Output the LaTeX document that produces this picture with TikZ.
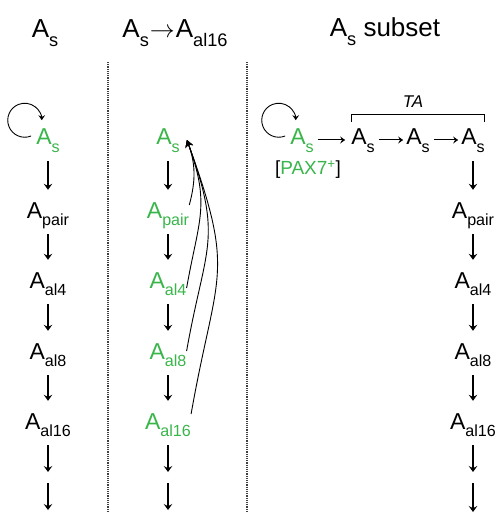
\documentclass[tikz,border=0pt]{standalone}
\usepackage{fontspec}
\setmainfont{Liberation Sans}
\usepackage{tikz}
\usetikzlibrary{calc}
\usetikzlibrary{arrows.meta}
\definecolor{paxgreen}{RGB}{57,181,74}
\newcommand{\sub}[1]{\raisebox{-0.32em}{\scalebox{0.7}{#1}}}
\tikzstyle{titlebox}=[anchor=base,inner sep=0pt,font=\fontsize{26}{30}\selectfont]
\tikzstyle{cellbox}=[anchor=base,inner sep=0pt,text height=16pt,text depth=6pt,font=\fontsize{23}{27}\selectfont]
\tikzstyle{greenbox}=[cellbox,text=paxgreen]
\tikzstyle{paxbox}=[anchor=base,inner sep=0pt,font=\fontsize{19}{23}\selectfont]
\tikzstyle{tabox}=[anchor=base,inner sep=0pt,font=\fontsize{17}{20}\selectfont\itshape]
\tikzstyle{downpath}=[-{Stealth[length=6pt,width=8.5pt,inset=2.2pt]},line width=1.3pt,shorten <=10pt,shorten >=12pt]
\tikzstyle{freepath}=[-{Stealth[length=6pt,width=8.5pt,inset=2.2pt]},line width=1.3pt]
\tikzstyle{sidepath}=[-{Stealth[length=5pt,width=7pt,inset=2pt]},line width=1pt,shorten <=4pt,shorten >=3pt]
\tikzstyle{looppath}=[-{Stealth[length=5pt,width=6.5pt,inset=1.8pt]},line width=0.9pt]
\tikzstyle{backpath}=[-{Stealth[length=7pt,width=8pt,inset=2.2pt]},line width=0.9pt]
\tikzstyle{bracketpath}=[line width=0.9pt]
\tikzstyle{divider}=[densely dotted,line width=1.2pt,black!75]

\begin{document}
\begin{tikzpicture}[x=1pt,y=1pt]
        \useasboundingbox (0,0) rectangle (497,-513);

        % titles
        \node[titlebox] (t1) at (45,-38) {A\sub{s}};
        \node[titlebox] (t2) at (175,-38) {A\sub{s}\kern1pt$\rightarrow$\kern1pt A\sub{al16}};
        \node[titlebox] (t3) at (385,-37) {A\sub{s} subset};

        \draw[divider] (108,-62) -- (108,-513);
        \draw[divider] (247,-62) -- (247,-513);

        % A_s column
        \node[greenbox] (as1) at (48,-145) {A\sub{s}};
        \node[cellbox] (pair1) at (48,-218) {A\sub{pair}};
        \node[cellbox] (al4a) at (48,-288) {A\sub{al4}};
        \node[cellbox] (al8a) at (48,-359) {A\sub{al8}};
        \node[cellbox] (al16a) at (48,-429) {A\sub{al16}};
        \coordinate (end1a) at (48,-472);
        \coordinate (end1b) at (48,-483);
        \coordinate (end1c) at (48,-510);

        \draw[looppath] ([shift={(-5,4)}]as1.west) arc[start angle=292,end angle=0,radius=17];
        \draw[downpath] (as1) -- (pair1);
        \draw[downpath] (pair1) -- (al4a);
        \draw[downpath] (al4a) -- (al8a);
        \draw[downpath] (al8a) -- (al16a);
        \draw[downpath,shorten >=0pt] (al16a) -- (end1a);
        \draw[freepath] (end1b) -- (end1c);

        % A_s -> A_al16 column
        \node[greenbox] (as2) at (168,-145) {A\sub{s}};
        \node[greenbox] (pair2) at (168,-218) {A\sub{pair}};
        \node[greenbox] (al4b) at (168,-288) {A\sub{al4}};
        \node[greenbox] (al8b) at (168,-359) {A\sub{al8}};
        \node[greenbox] (al16b) at (168,-429) {A\sub{al16}};
        \coordinate (end2a) at (168,-472);
        \coordinate (end2b) at (168,-483);
        \coordinate (end2c) at (168,-510);

        \draw[downpath] (as2) -- (pair2);
        \draw[downpath] (pair2) -- (al4b);
        \draw[downpath] (al4b) -- (al8b);
        \draw[downpath] (al8b) -- (al16b);
        \draw[downpath,shorten >=0pt] (al16b) -- (end2a);
        \draw[freepath] (end2b) -- (end2c);

        \draw[backpath] ([yshift=8pt]pair2.east) to[out=75,in=-70] ([xshift=7pt]as2.east);
        \draw[backpath] ([yshift=-5pt]al4b.east) to[out=80,in=-70,looseness=1.2] ([xshift=7pt]as2.east);
        \draw[backpath] ([yshift=3pt]al8b.east) to[out=80,in=-70,looseness=1.3] ([xshift=7pt]as2.east);
        \draw[backpath] ([yshift=10pt]al16b.east) to[out=80,in=-70,looseness=1.35] ([xshift=7pt]as2.east);

        % A_s subset column
        \node[greenbox] (as3) at (302,-145) {A\sub{s}};
        \node[cellbox] (tb1) at (363,-145) {A\sub{s}};
        \node[cellbox] (tb2) at (418,-145) {A\sub{s}};
        \node[cellbox] (tb3) at (473,-145) {A\sub{s}};
        \node[paxbox] (pax) at (308,-175) {[{\color{paxgreen}PAX7\textsuperscript{+}}]};
        \node[tabox] (ta) at (413,-108) {TA};
        \node[cellbox] (pair3) at (473,-218) {A\sub{pair}};
        \node[cellbox] (al4c) at (473,-288) {A\sub{al4}};
        \node[cellbox] (al8c) at (473,-359) {A\sub{al8}};
        \node[cellbox] (al16c) at (473,-429) {A\sub{al16}};
        \coordinate (end3a) at (473,-472);
        \coordinate (end3b) at (473,-483);
        \coordinate (end3c) at (473,-512);

        \draw[looppath] ([shift={(-5,4)}]as3.west) arc[start angle=292,end angle=0,radius=17];
        \draw[sidepath,shorten >=6pt] (as3) -- (tb1);
        \draw[sidepath] (tb1) -- (tb2);
        \draw[sidepath] (tb2) -- (tb3);
        \draw[bracketpath] ([yshift=7pt]tb1.north west) -- ++(0,7) -| ([yshift=7pt]tb3.north east);

        \draw[downpath] (tb3) -- (pair3);
        \draw[downpath] (pair3) -- (al4c);
        \draw[downpath] (al4c) -- (al8c);
        \draw[downpath] (al8c) -- (al16c);
        \draw[downpath,shorten >=0pt] (al16c) -- (end3a);
        \draw[freepath] (end3b) -- (end3c);
    \end{tikzpicture}
\end{document}
